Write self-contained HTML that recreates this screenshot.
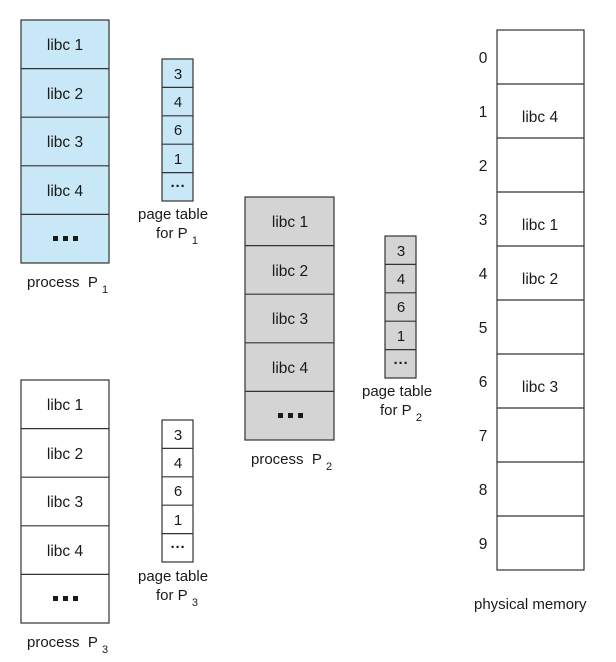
<!DOCTYPE html>
<html><head><meta charset="utf-8"><style>
html,body{margin:0;padding:0;background:#fff;width:616px;height:662px;overflow:hidden}
svg text{font-family:"Liberation Sans",sans-serif;fill:#1a1a1a}
</style></head><body>
<svg width="616" height="662" viewBox="0 0 616 662" xmlns="http://www.w3.org/2000/svg">
<g stroke="#333" stroke-width="1.2">
<rect x="21" y="20" width="88" height="243" fill="#c9e8f7"/>
<line x1="21" y1="68.6" x2="109" y2="68.6"/><line x1="21" y1="117.2" x2="109" y2="117.2"/><line x1="21" y1="165.8" x2="109" y2="165.8"/><line x1="21" y1="214.4" x2="109" y2="214.4"/>
<rect x="162" y="59" width="31" height="142" fill="#c9e8f7"/>
<line x1="162" y1="87.4" x2="193" y2="87.4"/><line x1="162" y1="115.8" x2="193" y2="115.8"/><line x1="162" y1="144.2" x2="193" y2="144.2"/><line x1="162" y1="172.6" x2="193" y2="172.6"/>
<rect x="245" y="197" width="89" height="243" fill="#d4d4d4"/>
<line x1="245" y1="245.6" x2="334" y2="245.6"/><line x1="245" y1="294.2" x2="334" y2="294.2"/><line x1="245" y1="342.8" x2="334" y2="342.8"/><line x1="245" y1="391.4" x2="334" y2="391.4"/>
<rect x="385" y="236" width="31" height="142" fill="#d4d4d4"/>
<line x1="385" y1="264.4" x2="416" y2="264.4"/><line x1="385" y1="292.8" x2="416" y2="292.8"/><line x1="385" y1="321.2" x2="416" y2="321.2"/><line x1="385" y1="349.6" x2="416" y2="349.6"/>
<rect x="21" y="380" width="88" height="243" fill="#fff"/>
<line x1="21" y1="428.6" x2="109" y2="428.6"/><line x1="21" y1="477.2" x2="109" y2="477.2"/><line x1="21" y1="525.8" x2="109" y2="525.8"/><line x1="21" y1="574.4" x2="109" y2="574.4"/>
<rect x="162" y="420" width="31" height="142" fill="#fff"/>
<line x1="162" y1="448.4" x2="193" y2="448.4"/><line x1="162" y1="476.8" x2="193" y2="476.8"/><line x1="162" y1="505.2" x2="193" y2="505.2"/><line x1="162" y1="533.6" x2="193" y2="533.6"/>
<rect x="497" y="30" width="87" height="540" fill="#fff"/>
<line x1="497" y1="84" x2="584" y2="84"/><line x1="497" y1="138" x2="584" y2="138"/><line x1="497" y1="192" x2="584" y2="192"/><line x1="497" y1="246" x2="584" y2="246"/><line x1="497" y1="300" x2="584" y2="300"/><line x1="497" y1="354" x2="584" y2="354"/><line x1="497" y1="408" x2="584" y2="408"/><line x1="497" y1="462" x2="584" y2="462"/><line x1="497" y1="516" x2="584" y2="516"/>
</g>
<g fill="#1a1a1a">
<rect x="53" y="236" width="5" height="5"/><rect x="63" y="236" width="5" height="5"/><rect x="73" y="236" width="5" height="5"/>
<rect x="53" y="596" width="5" height="5"/><rect x="63" y="596" width="5" height="5"/><rect x="73" y="596" width="5" height="5"/>
<rect x="278" y="413" width="5" height="5"/><rect x="288" y="413" width="5" height="5"/><rect x="298" y="413" width="5" height="5"/>
</g>
<g font-size="15.5" text-anchor="middle">
<text x="65" y="50">libc 1</text><text x="65" y="99">libc 2</text><text x="65" y="147">libc 3</text><text x="65" y="196">libc 4</text>
<text x="65" y="410">libc 1</text><text x="65" y="459">libc 2</text><text x="65" y="507">libc 3</text><text x="65" y="556">libc 4</text>
<text x="290" y="227">libc 1</text><text x="290" y="276">libc 2</text><text x="290" y="324">libc 3</text><text x="290" y="373">libc 4</text>
<text x="540" y="122">libc 4</text><text x="540" y="230">libc 1</text><text x="540" y="284">libc 2</text><text x="540" y="392">libc 3</text>
</g>
<g font-size="15" text-anchor="middle">
<text x="178" y="79">3</text><text x="178" y="107">4</text><text x="178" y="135">6</text><text x="178" y="164">1</text><text x="178" y="191" font-weight="bold">···</text>
<text x="178" y="440">3</text><text x="178" y="468">4</text><text x="178" y="496">6</text><text x="178" y="525">1</text><text x="178" y="552" font-weight="bold">···</text>
<text x="401" y="256">3</text><text x="401" y="284">4</text><text x="401" y="312">6</text><text x="401" y="341">1</text><text x="401" y="368" font-weight="bold">···</text>
</g>
<g font-size="15.5" text-anchor="middle">
<text x="483" y="63">0</text><text x="483" y="117">1</text><text x="483" y="171">2</text><text x="483" y="225">3</text><text x="483" y="279">4</text><text x="483" y="333">5</text><text x="483" y="387">6</text><text x="483" y="441">7</text><text x="483" y="495">8</text><text x="483" y="549">9</text>
</g>
<g font-size="15">
<text x="27" y="287">process&#160; P&#160;<tspan font-size="11" dy="6">1</tspan></text>
<text x="27" y="647">process&#160; P&#160;<tspan font-size="11" dy="6">3</tspan></text>
<text x="251" y="464">process&#160; P&#160;<tspan font-size="11" dy="6">2</tspan></text>
<text x="138" y="219">page table</text>
<text x="156" y="238">for P&#160;<tspan font-size="11" dy="6">1</tspan></text>
<text x="138" y="581">page table</text>
<text x="156" y="600">for P&#160;<tspan font-size="11" dy="6">3</tspan></text>
<text x="362" y="396">page table</text>
<text x="380" y="415">for P&#160;<tspan font-size="11" dy="6">2</tspan></text>
<text x="474" y="609">physical memory</text>
</g>
</svg>
</body></html>
